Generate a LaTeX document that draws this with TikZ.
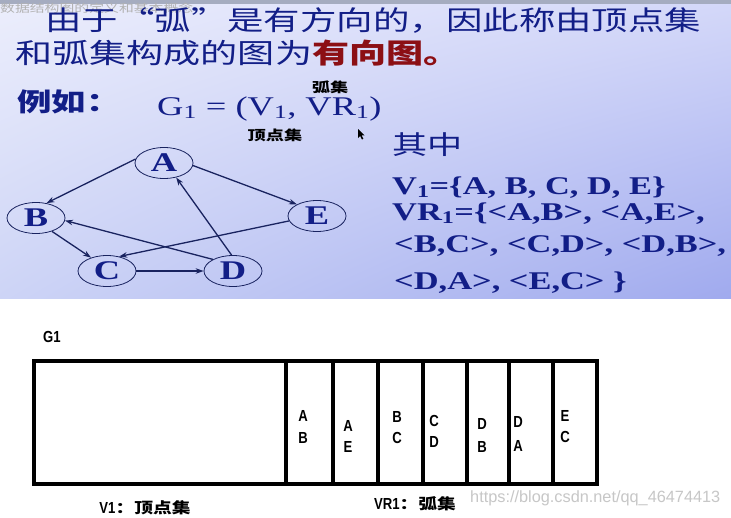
\documentclass[tikz,border=0pt]{standalone}
\usepackage{fontspec}
\usetikzlibrary{shapes.geometric,arrows.meta,shadings}
\newfontfamily\cjk{Noto Sans CJK SC}
\newfontfamily\slidecjk{Noto Sans CJK SC}[FakeStretch=1.35]
\newfontfamily\tblcjk{Noto Sans CJK SC}[FakeStretch=1.25]
\newfontfamily\slideserif{Liberation Serif}[FakeStretch=1.35]
\newfontfamily\narrowsans{Liberation Sans}[FakeStretch=0.82]
\newfontfamily\wmfont{Liberation Sans}
\definecolor{slideblue}{RGB}{18,30,135}
\definecolor{slidered}{RGB}{140,15,20}
\definecolor{navy}{RGB}{25,35,95}
\definecolor{stripgray}{RGB}{165,172,192}
\definecolor{bgul}{RGB}{236,238,252}
\definecolor{bgur}{RGB}{212,216,249}
\definecolor{bgll}{RGB}{205,212,246}
\definecolor{bglr}{RGB}{160,170,238}
\begin{document}
\begin{tikzpicture}[x=1pt,y=-1pt,
  vtx/.style={ellipse, draw=navy, line width=0.8pt, minimum width=58pt, minimum height=31pt, inner sep=0pt,
    font=\slideserif\bfseries\fontsize{27}{27}\selectfont, text=slideblue},
  arc/.style={-{Stealth[length=8pt,width=5.5pt]}, draw=navy, line width=1.3pt},
  st/.style={anchor=base west, inner sep=0pt, text=slideblue},
  lab/.style={inner sep=0pt, text=black, font=\slidecjk\bfseries\fontsize{13.5}{14}\selectfont},
  tbl/.style={line width=3.5pt, draw=black},
  cell/.style={inner sep=0pt, text=black, font=\narrowsans\bfseries\fontsize{16}{16}\selectfont}]
\useasboundingbox (0,0) rectangle (731,517);
\fill[white] (0,0) rectangle (731,517);
% slide background
\shade[upper left=bgul, upper right=bgur, lower left=bgll, lower right=bglr]
  (0,0) rectangle (731,298);
\fill[stripgray] (0,0) rectangle (731,4);
\node[anchor=west, inner sep=0pt, text=gray!60, font=\slidecjk\fontsize{11}{11}\selectfont] (title) at (0,8) {数据结构图的定义和基本概念};
% slide text
\node[st, font=\slidecjk\fontsize{27}{26}\selectfont] (t1) at (45,30) {由于“弧”是有方向的，因此称由顶点集};
\node[st, font=\slidecjk\fontsize{27.5}{26}\selectfont] (t2) at (15,63) {和弧集构成的图为{\bfseries\color{slidered}有向图。}};
\node[st, font=\slidecjk\bfseries\fontsize{25.5}{23}\selectfont] (eg) at (17,111) {例如：};
\node[st, font=\slideserif\fontsize{27}{27}\selectfont] (g) at (157,115) {G\textsubscript{1} = (V\textsubscript{1}, VR\textsubscript{1})};
\node[lab] (hj) at (330,87) {弧集};
\node[lab] (dj) at (275,135) {顶点集};
% cursor
\fill[black] (358,129) -- (358,138) -- (360.2,136) -- (362,139.5) -- (363.3,138.8) -- (361.6,135.4) -- (364.5,135.4) -- cycle;
% graph
\node[vtx] (A) at (164,163) {A};
\node[vtx] (B) at (36,218) {B};
\node[vtx] (E) at (317,216) {E};
\node[vtx] (C) at (107,271) {C};
\node[vtx] (D) at (233,271) {D};
\draw[arc] (A.172) -- (B.55);
\draw[arc] (A.-5) -- (E.150);
\draw[arc] (B.-40) -- (C.140);
\draw[arc] (C.0) -- (D.180);
\draw[arc] (D.150) -- (B.-5);
\draw[arc] (D.95) -- (A.-50);
\draw[arc] (E.190) -- (C.50);
% right block
\node[st, font=\slidecjk\fontsize{26}{26}\selectfont] (qz) at (392,154) {其中};
\node[st, font=\slideserif\bfseries\fontsize{25.5}{26}\selectfont] (v1) at (392,194) {V\textsubscript{1}=\{A, B, C, D, E\}};
\node[st, font=\slideserif\bfseries\fontsize{25.5}{26}\selectfont] (vr1) at (392,220) {VR\textsubscript{1}=\{<A,B>, <A,E>,};
\node[st, font=\slideserif\bfseries\fontsize{25.5}{26}\selectfont] (vr2) at (394,252) {<B,C>, <C,D>, <D,B>,};
\node[st, font=\slideserif\bfseries\fontsize{25.5}{26}\selectfont] (vr3) at (394,289) {<D,A>, <E,C> \}};
% bottom table
\node[cell] (g1) at (52,337) {G1};
\draw[tbl] (34,361) rectangle (597,484);
\foreach \xx in {286,333,378,423,467,509,553} {\draw[tbl] (\xx,361) -- (\xx,484);}
\node[cell] (c1a) at (303,416) {A}; \node[cell] (c1b) at (303,438) {B};
\node[cell] (c2a) at (348,426) {A}; \node[cell] (c2b) at (348,447) {E};
\node[cell] (c3a) at (397,417) {B}; \node[cell] (c3b) at (397,438) {C};
\node[cell] (c4a) at (434,421) {C}; \node[cell] (c4b) at (434,442) {D};
\node[cell] (c5a) at (482,424) {D}; \node[cell] (c5b) at (482,447) {B};
\node[cell] (c6a) at (518,422) {D}; \node[cell] (c6b) at (518,446) {A};
\node[cell] (c7a) at (565,416) {E}; \node[cell] (c7b) at (565,437) {C};
\node[inner sep=0pt, text=black] (v1l) at (145,508) {\narrowsans\bfseries\fontsize{16}{16}\selectfont V1\tblcjk\bfseries\fontsize{15}{16}\selectfont ：顶点集};
\node[inner sep=0pt, text=black] (vr1l) at (415,504) {\narrowsans\bfseries\fontsize{16}{16}\selectfont VR1\tblcjk\bfseries\fontsize{15}{16}\selectfont ：弧集};
\node[anchor=west, inner sep=0pt, text=black!22, font=\wmfont\fontsize{16.3}{17}\selectfont] (wm) at (470,498) {https://blog.csdn.net/qq\_46474413};
\end{tikzpicture}
\end{document}
